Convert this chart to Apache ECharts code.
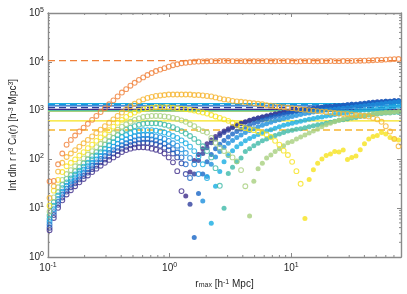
<!DOCTYPE html>
<html><head><meta charset="utf-8">
<script src="https://cdn.jsdelivr.net/npm/echarts@6/dist/echarts.min.js"></script>
<style>html,body{margin:0;padding:0;background:#fff}#c{width:407px;height:294px}</style>
</head><body><div id="c"></div>
<script>
// r_max grid [h^-1 Mpc]
const rmax = [0.1030,0.1116,0.1210,0.1311,0.1422,0.1541,0.1671,0.1811,0.1963,0.2127,0.2306,0.2499,0.2709,0.2937,0.3183,0.3450,0.3739,0.4053,0.4393,0.4762,0.5162,0.5595,0.6065,0.6574,0.7125,0.7723,0.8372,0.9075,0.9836,1.066,1.156,1.253,1.358,1.472,1.595,1.729,1.874,2.031,2.202,2.387,2.587,2.804,3.039,3.294,3.571,3.870,4.195,4.547,4.929,5.343,5.791,6.277,6.804,7.375,7.994,8.665,9.393,10.18,11.04,11.96,12.97,14.05,15.23,16.51,17.90,19.40,21.03,22.79,24.71,26.78,29.03,31.46,34.11,36.97,40.07,43.44,47.08,51.04,55.32,59.96,65.00,70.45,76.36];

// cumulative integrals (negative values = drawn as filled markers of |value|)
const sPurple = [3.55,6.31,10.2,14.5,19.1,23.4,28.2,33.9,39.8,46.8,55.0,64.6,74.1,85.1,97.7,110,123,141,155,166,174,178,178,174,166,158,148,132,110,87.1,57.5,22.4,-17.8,-55,-95.5,-126,-166,-209,-251,-295,-339,-380,-427,-468,-513,-550,-589,-631,-676,-708,-741,-776,-813,-851,-871,-912,-933,-955,-977,-1000,-1023,-1047,-1072,-1096,-1122,-1148,-1148,-1175,-1202,-1230,-1230,-1259,-1288,-1318,-1349,-1380,-1413,-1445,-1479,-1514,-1514,-1549,-1549];
const sIndigo = [3.98,7.24,11.7,16.6,21.9,26.9,32.4,38.9,45.7,53.7,63.1,74.1,87.1,100,115,132,148,166,182,195,204,214,219,219,214,204,191,174,155,132,110,83.2,50.1,-12.0,-50.1,-95.5,-132,-174,-219,-263,-309,-355,-398,-447,-490,-537,-575,-617,-661,-708,-741,-776,-813,-851,-891,-933,-955,-1000,-1023,-1047,-1072,-1096,-1122,-1148,-1175,-1202,-1230,-1259,-1259,-1288,-1318,-1349,-1349,-1380,-1413,-1445,-1479,-1514,-1514,-1549,-1549,-1585,-1585];
const sBlue = [4.57,8.32,13.5,19.1,25.1,30.9,37.2,44.7,52.5,63.1,74.1,87.1,102,117,135,155,174,195,214,229,245,257,263,263,257,245,229,209,186,162,138,110,79.4,41.7,-2.51,-20.0,-50.1,-89.1,-126,-166,-204,-245,-288,-331,-372,-417,-457,-501,-550,-589,-631,-676,-724,-759,-794,-832,-871,-912,-955,-1000,-1023,-1072,-1096,-1122,-1148,-1175,-1202,-1230,-1259,-1288,-1318,-1349,-1349,-1380,-1413,-1445,-1479,-1479,-1514,-1549,-1549,-1585,-1585];
const sLightBlue = [5.25,9.55,15.5,21.9,28.8,35.5,42.7,51.3,61.7,72.4,85.1,100,117,138,158,182,209,234,257,275,295,309,316,316,309,295,282,263,240,214,191,162,135,107,79.4,50.1,-14.1,-44.7,-79.4,-112,-145,-178,-214,-245,-282,-316,-355,-389,-427,-468,-501,-537,-575,-617,-646,-692,-724,-759,-794,-832,-871,-891,-933,-955,-1000,-1023,-1047,-1072,-1096,-1122,-1148,-1175,-1202,-1230,-1259,-1288,-1318,-1349,-1380,-1413,-1445,-1479,-1514];
const sCyan = [6.03,11.2,18.2,25.7,33.9,40.7,49.0,58.9,70.8,85.1,100,120,141,166,195,224,257,288,316,347,372,389,398,398,398,389,372,355,331,302,275,245,214,182,148,115,79.4,41.7,-4.90,-28.2,-56.2,-89.1,-120,-151,-182,-209,-240,-269,-295,-324,-355,-380,-407,-437,-468,-501,-525,-550,-575,-603,-631,-661,-692,-724,-741,-776,-794,-832,-851,-891,-912,-933,-977,-1000,-1023,-1047,-1072,-1096,-1122,-1148,-1175,-1202,-1230];
const sTeal = [7.08,13.2,21.4,30.2,39.8,47.9,57.5,69.2,83.2,100,117,141,166,200,234,275,316,363,407,447,479,513,537,550,550,550,537,513,490,457,417,380,339,302,263,224,186,148,110,66.1,28.8,-10.0,-51.3,-69.2,-89.1,-107,-145,-166,-191,-214,-240,-263,-288,-309,-331,-355,-380,-398,-417,-427,-447,-468,-490,-513,-525,-550,-575,-603,-631,-646,-676,-708,-724,-759,-776,-813,-832,-851,-871,-891,-891,-912,-912];
const sLightGreen = [8.51,16.6,26.9,38.0,50.1,60.3,72.4,87.1,105,126,148,178,209,251,295,347,407,468,525,589,646,692,741,759,776,776,776,759,741,708,676,631,589,525,479,417,380,355,275,219,174,148,126,110,91.2,60.3,28.2,-6.92,-35.5,-64.6,-83.2,-107,-123,-145,-166,-191,-219,-234,-263,-288,-316,-347,-380,-417,-468,-513,-550,-589,-631,-676,-724,-741,-776,-794,-813,-832,-851,-871,-891,-912,-912,-933,-955];
const sYellow = [11.2,22.9,38.0,55.0,72.4,85.1,100,120,141,170,200,240,282,331,398,468,562,646,741,832,912,1000,1072,1122,1148,1175,1175,1175,1175,1148,1122,1096,1072,1047,1000,955,912,871,813,759,708,661,617,562,513,468,437,417,398,372,347,324,288,240,200,151,123,89.1,57.5,31.6,-6.17,-38.9,-61.7,-83.2,-102,-120,-129,-145,-141,-155,-100,-110,-117,-158,-209,-263,-295,-309,-355,-331,-282,-263,-251];
const sGold = [16.2,28.2,56.2,85.1,112,132,155,182,214,251,295,347,407,479,562,661,776,912,1072,1230,1380,1549,1698,1820,1905,1995,2042,2089,2138,2138,2138,2138,2138,2138,2089,2089,2042,1995,1950,1862,1778,1698,1660,1585,1549,1514,1479,1445,1413,1380,1349,1288,1259,1230,1202,1175,1148,1122,1096,1072,1047,1023,1000,977,955,933,912,891,871,851,851,832,813,794,776,759,708,661,589,479,372,263,186];
const sOrange = [35.5,36.3,79.4,132,200,251,309,372,447,537,646,776,933,1122,1349,1622,1950,2344,2754,3236,3715,4266,4786,5370,5888,6457,6918,7413,7943,8511,8913,9333,9550,9772,10000,10120,10200,10250,10300,10300,10350,10350,10350,10300,10300,10300,10250,10250,10250,10300,10300,10300,10250,10250,10300,10300,10300,10250,10200,10250,10300,10300,10250,10250,10300,10300,10350,10300,10300,10350,10400,10400,10450,10500,10550,10650,10750,10850,10950,11100,11200,11350,11400];

// asymptotic totals (horizontal reference lines), same order as the curves
const asymptotes = [1060,1150,1250,1320,1390,1000,960,617,400,10600];

// axis tick labels
const xTickExps = [-1,0,1];
const yTickExps = [0,1,2,3,4,5];
const xMinorTicks = [0.2,0.3,0.4,0.5,0.6,0.7,0.8,0.9,2,3,4,5,6,7,8,9,20,30,40,50,60,70];
const yMinorTicks = [2,3,4,5,6,7,8,9,20,30,40,50,60,70,80,90,200,300,400,500,600,700,800,900,2000,3000,4000,5000,6000,7000,8000,9000,20000,30000,40000,50000,60000,70000,80000,90000];

const curves = [sPurple,sIndigo,sBlue,sLightBlue,sCyan,sTeal,sLightGreen,sYellow,sGold,sOrange];
const colors = ['#3d2c8a','#2f3f9e','#1865c6','#1b8edd','#17ade2','#3db9a8','#a7cf7e','#f6e21d','#f6b531','#f0813a'];
const dashed = [false,true,false,true,false,false,false,false,true,true];

const XMIN = 0.1, XMAX = 80, YMIN = 1, YMAX = 100000;
const F = '"Liberation Sans", Arial, Helvetica, sans-serif';
const TXT = '#262626';
const AX = '#8a8a8a';

const rich = {
  b: {fontSize: 10, fontFamily: F, color: TXT, lineHeight: 13},
  s: {fontSize: 7, fontFamily: F, color: TXT, lineHeight: 8, verticalAlign: 'top'},
  u: {fontSize: 7, fontFamily: F, color: TXT, lineHeight: 8, verticalAlign: 'bottom'}
};
function powLabel(v) {
  const e = Math.log10(v), r = Math.round(e);
  if (Math.abs(e - r) > 0.01) return '';
  return '{b|10}{s|' + r + '}';
}

const series = [];
curves.forEach((arr, i) => {
  const n = Math.min(arr.length, rmax.length);
  series.push({
    type: 'line', silent: true, z: 1, symbol: 'none', animation: false,
    data: [[XMIN, asymptotes[i]], [XMAX, asymptotes[i]]],
    lineStyle: {color: colors[i], width: 1.3, type: dashed[i] ? [7, 4] : 'solid'}
  });
});
curves.forEach((arr, i) => {
  const n = Math.min(arr.length, rmax.length);
  const open = [], filled = [];
  for (let k = 0; k < n; k++) {
    if (arr[k] > 0) open.push([rmax[k], arr[k]]);
    else if (arr[k] < 0) filled.push([rmax[k], -arr[k]]);
  }
  series.push({
    type: 'scatter', z: 2, animation: false, silent: true,
    symbol: 'circle', symbolSize: 4.8, data: open,
    itemStyle: {color: 'rgba(255,255,255,0)', borderColor: colors[i], borderWidth: 1.1}
  });
  series.push({
    type: 'scatter', z: 2, animation: false, silent: true,
    symbol: 'circle', symbolSize: 5, data: filled,
    itemStyle: {color: colors[i], borderWidth: 0}
  });
});
// minor ticks on all four sides, placed through the axes' scales
series.push({
  type: 'custom', coordinateSystem: 'cartesian2d', silent: true, z: 10, animation: false,
  data: [[1, 1]],
  renderItem: function (params, api) {
    const cs = params.coordSys;
    const ch = [];
    const st = {stroke: AX, lineWidth: 1};
    xMinorTicks.forEach(v => {
      const x = api.coord([v, YMIN])[0];
      ch.push({type: 'line', shape: {x1: x, y1: cs.y + cs.height, x2: x, y2: cs.y + cs.height - 2}, style: st});
      ch.push({type: 'line', shape: {x1: x, y1: cs.y, x2: x, y2: cs.y + 2}, style: st});
    });
    yMinorTicks.forEach(v => {
      const y = api.coord([XMIN, v])[1];
      ch.push({type: 'line', shape: {x1: cs.x, y1: y, x2: cs.x + 2, y2: y}, style: st});
      ch.push({type: 'line', shape: {x1: cs.x + cs.width, y1: y, x2: cs.x + cs.width - 2, y2: y}, style: st});
    });
    return {type: 'group', children: ch};
  }
});

const axisLine = {show: true, lineStyle: {color: AX, width: 1.4}};
const axisTick = {show: true, inside: true, length: 4, lineStyle: {color: AX, width: 1}};

const chart = echarts.init(document.getElementById('c'), null, {renderer: 'canvas'});
chart.setOption({
  animation: false,
  backgroundColor: '#ffffff',
  grid: {left: 48, right: 6, top: 13, bottom: 35, containLabel: false},
  xAxis: [{
    type: 'log', logBase: 10, min: XMIN, max: XMAX, position: 'bottom',
    axisLine, axisTick, splitLine: {show: false},
    axisLabel: {formatter: powLabel, rich, margin: 5, showMaxLabel: false},
    name: 'r{u|max} [h{s|-1} Mpc]', nameLocation: 'middle', nameGap: 22,
    nameTextStyle: {fontSize: 10, fontFamily: F, color: TXT, rich}
  }, {
    type: 'log', logBase: 10, min: XMIN, max: XMAX, position: 'top',
    axisLine, axisTick, splitLine: {show: false}, axisLabel: {show: false}
  }],
  yAxis: [{
    type: 'log', logBase: 10, min: YMIN, max: YMAX, position: 'left',
    axisLine, axisTick, splitLine: {show: false},
    axisLabel: {formatter: powLabel, rich, margin: 4},
    name: 'Int dln r r{s|3} C{u|ii}(r) [h{s|-3} Mpc{s|3}]', nameLocation: 'middle', nameGap: 30, nameRotate: 90,
    nameTextStyle: {fontSize: 10, fontFamily: F, color: TXT, rich}
  }, {
    type: 'log', logBase: 10, min: YMIN, max: YMAX, position: 'right',
    axisLine, axisTick, splitLine: {show: false}, axisLabel: {show: false}
  }],
  series
});
</script>
</body></html>
